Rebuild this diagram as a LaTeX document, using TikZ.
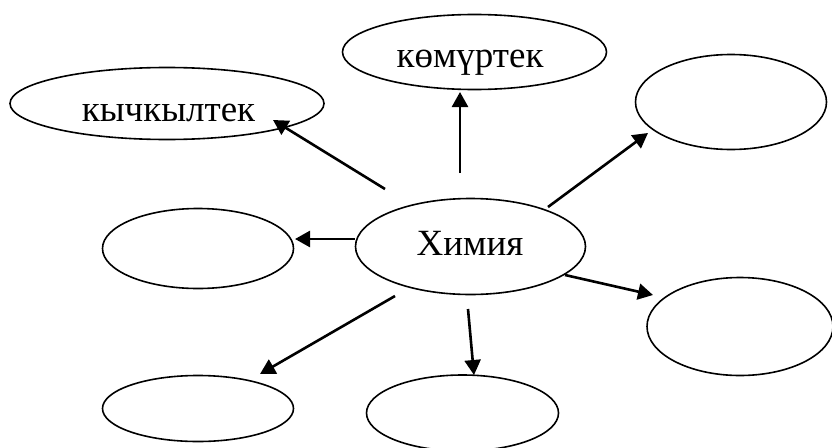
\documentclass[tikz,border=0pt]{standalone}
\usepackage{fontspec}
\setmainfont{Liberation Serif}
\usetikzlibrary{shapes.geometric,arrows.meta}
\begin{document}
\begin{tikzpicture}[x=1pt,y=-1pt,
  bubble/.style={ellipse,draw,line width=1.6pt,inner sep=0pt},
  word/.style={anchor=base,inner sep=0pt,font=\fontsize{37}{40}\selectfont},
  link/.style={line width=2.6pt,-{Triangle[length=15pt,width=16pt]}}]
\useasboundingbox (0,0) rectangle (832,447);

% ellipses
\node[bubble,minimum width=314pt,minimum height=72pt] (kych) at (167,103.5) {};
\node[bubble,minimum width=264pt,minimum height=75pt] (komur) at (474.5,52) {};
\node[bubble,minimum width=191pt,minimum height=95pt] (ne) at (731,102) {};
\node[bubble,minimum width=191pt,minimum height=80pt] (west) at (198,248.5) {};
\node[bubble,minimum width=230pt,minimum height=96pt] (chem) at (470.5,246.5) {};
\node[bubble,minimum width=186pt,minimum height=98pt] (east) at (740,326.5) {};
\node[bubble,minimum width=191pt,minimum height=66pt] (sw) at (198,408.5) {};
\node[bubble,minimum width=192pt,minimum height=76pt] (south) at (462.5,413) {};

% labels
\node[word] (tkych) at (168.5,121) {кычкылтек};
\node[word] (tkomur) at (470,67) {көмүртек};
\node[word] (tchem) at (470,255) {Химия};

% arrow ends
\coordinate (s1) at (385,189); \coordinate (e1) at (273,120);
\coordinate (s2) at (460,173); \coordinate (e2) at (460,92);
\coordinate (s3) at (548,207); \coordinate (e3) at (648,133);
\coordinate (s4) at (355,239); \coordinate (e4) at (295,239);
\coordinate (s5) at (565,275); \coordinate (e5) at (653,295);
\coordinate (s6) at (468,309); \coordinate (e6) at (474,375);
\coordinate (s7) at (395,296); \coordinate (e7) at (260,374);

% arrows
\draw[link] (s1) -- (e1);
\draw[link] (s2) -- (e2);
\draw[link] (s3) -- (e3);
\draw[link] (s4) -- (e4);
\draw[link] (s5) -- (e5);
\draw[link] (s6) -- (e6);
\draw[link] (s7) -- (e7);
\end{tikzpicture}
\end{document}
